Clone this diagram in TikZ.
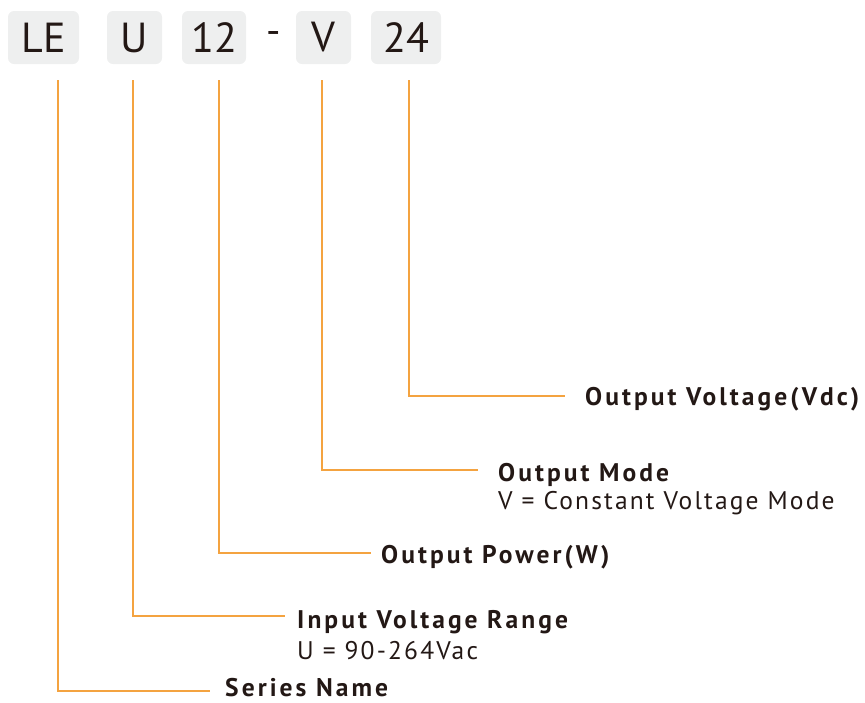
\documentclass[tikz,border=0pt]{standalone}
\usepackage{fontspec}
\setmainfont{PT Sans}
\definecolor{lncol}{HTML}{F4A340}
\definecolor{boxcol}{HTML}{EEEFEF}
\definecolor{txcol}{HTML}{231815}
\begin{document}
\begin{tikzpicture}[x=1pt,y=-1pt,
  codebox/.style={fill=boxcol, rounded corners=6pt, minimum height=53pt, inner sep=0pt, text=txcol,
    font=\fontsize{42}{42}\selectfont},
  headlbl/.style={anchor=base west, inner sep=0pt, text=txcol,
    font=\fontsize{25.5}{28}\selectfont\bfseries\addfontfeatures{LetterSpace=12}},
  sublbl/.style={anchor=base west, inner sep=0pt, text=txcol,
    font=\fontsize{25.5}{28}\selectfont\addfontfeatures{LetterSpace=8.5}},
  conn/.style={draw=lncol, line width=1.4pt}]
\useasboundingbox (0,0) rectangle (865,702);
% code boxes
\node[codebox, minimum width=71pt] (le) at (43.5,37.5) {LE};
\node[codebox, minimum width=55pt] (u) at (134.5,37.5) {U};
\node[codebox, minimum width=64pt] (p12) at (214,37.5) {12};
\node[inner sep=0pt, text=txcol, font=\fontsize{40}{40}\selectfont] (dash) at (274,37.5) {-};
\node[codebox, minimum width=55pt] (v) at (323.5,37.5) {V};
\node[codebox, minimum width=70pt] (p24) at (406,37.5) {24};
% label texts
\node[headlbl] (ovl) at (585,405) {Output Voltage(Vdc)};
\node[headlbl] (om) at (498,481) {Output Mode};
\node[sublbl] (omd) at (498,509) {V = Constant Voltage Mode};
\node[headlbl] (op) at (381,563) {Output Power(W)};
\node[headlbl] (ivr) at (297,628) {Input Voltage Range};
\node[sublbl] (ivrd) at (297,659) {U = 90-264Vac};
\node[headlbl] (sn) at (225,696) {Series Name};
% connector coordinates
\coordinate (t1) at (58,80);   \coordinate (e1) at (210,691);
\coordinate (t2) at (133,80);  \coordinate (e2) at (285,616);
\coordinate (t3) at (219,80);  \coordinate (e3) at (371,553);
\coordinate (t4) at (322,80);  \coordinate (e4) at (478,470);
\coordinate (t5) at (409,80);  \coordinate (e5) at (565,396);
\draw[conn] (t1) |- (e1);
\draw[conn] (t2) |- (e2);
\draw[conn] (t3) |- (e3);
\draw[conn] (t4) |- (e4);
\draw[conn] (t5) |- (e5);
\end{tikzpicture}
\end{document}
